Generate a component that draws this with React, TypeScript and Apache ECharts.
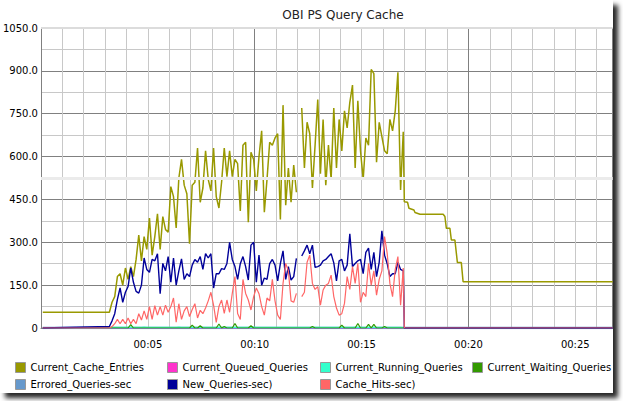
import React, { useEffect, useRef } from "react";
import * as echarts from "echarts";

const TITLE = "OBI PS Query Cache";
const FONT = "'DejaVu Sans', sans-serif";

// time axis in seconds
const startSec = 5;
const endSec = 1605;
const denseStartSec = 192;
const denseStepSec = 7.5;
const burstEndSec = 1020;

const legendColumns = [
  ["Current_Cache_Entries", "Errored_Queries-sec"],
  ["Current_Queued_Queries", "New_Queries-sec)"],
  ["Current_Running_Queries", "Cache_Hits-sec)"],
  ["Current_Waiting_Queries"],
];
const legendLefts = [15, 167, 320, 472];

const colors = {
  "Current_Cache_Entries": "#999900",
  "Current_Queued_Queries": "#ff33cc",
  "Current_Running_Queries": "#33ffcc",
  "Current_Waiting_Queries": "#339900",
  "Errored_Queries-sec": "#6699cc",
  "New_Queries-sec)": "#000099",
  "Cache_Hits-sec)": "#ff6666",
};

const cacheEntriesHead = [55];
const cacheEntriesDense = [
  55, 90, 110, 180, 190, 150, 210, 170, 215, 180,
  240, 325, 235, 320, 275, 385, 255, 320, 400, 275,
  390, 345, 335, 495, 460, 350, 525, 590, 500, 470,
  295, 500, 510, 630, 440, 490, 620, 520, 480, 630,
  460, 420, 510, 630, 530, 620, 530, 590, 575, 410,
  640, 650, 370, 615, 590, 480, 600, 690, 405, 520,
  650, 640, 665, 680, 380, 780, 430, 560, 440, 570,
  475, null, 770, 560, 720, 680, 490, 640, 800, 540,
  730, 500, 640, 520, 770, 560, 730, 620, 760, 700,
  790, 850, 560, 795, 620, 520, 665, 640, 905, 890,
  580, 720, 670, 620, 610, 730, 690, 760, 895, 483, 687,
];
const cacheEntriesTailTimes = [1020, 1029, 1033, 1047, 1050, 1064, 1129, 1134, 1138, 1148, 1152, 1162, 1169, 1180, 1185, 1605];
const cacheEntriesTailValues = [442, 440, 419, 413, 404, 398, 398, 390, 349, 349, 308, 308, 229, 229, 162, 162];

const newQueriesDense = [
  5, 25, 50, 100, 140, 90, 125, 145, 210, 160,
  128, 122, 150, 245, 205, 195, 240, 235, 260, 120,
  226, 200, 250, 160, 245, 150, 200, 242, 170, 190,
  180, 220, 240, 230, 250, 205, 260, 245, 260, 140,
  190, 190, 208, 205, 226, 300, 240, 215, 170, 225,
  250, 215, 168, 290, 300, 160, 255, 150, 175, 170,
  225, 240, 220, 165, 225, 270, 170, 215, 168, 180,
  244, null, 252, 270, 290, 260, 290, 212, 215, 220,
  235, 240, 250, 260, 228, 165, 235, 240, 200, 220,
  330, 215, 226, 235, 240, 190, 265, 280, 205, 265,
  180, 230, 340, 255, 225, 180, 190, 190, 230, 205, 200,
];

const cacheHitsDense = [
  0, 5, 15, 30, 15, 30, 15, 35, 15, 30,
  15, 50, 28, 60, 30, 75, 30, 78, 45, 75,
  45, 80, 55, 75, 105, 20, 85, 30, 60, 75,
  40, 65, 85, 35, 62, 50, 70, 95, 125, 80,
  20, 75, 98, 51, 98, 55, 121, 180, 51, 30,
  170, 121, 98, 63, 110, 140, 120, 75, 45, 105,
  95, 170, 95, 45, 30, 156, 226, 200, 95, 90,
  121, null, 110, 125, 230, 255, 156, 135, 145, 80,
  133, 150, 156, 185, 110, 70, 45, 50, 86, 180,
  135, 215, 156, 226, 90, 125, 110, 226, 150, 200,
  115, 170, 200, 320, 260, 156, 110, 205, 250, 80, 210,
];

const waitingDense = [
  0, 0, 0, 0, 0, 0, 0, 0, 12, 0,
  0, 0, 0, 0, 0, 0, 0, 0, 0, 0,
  0, 0, 0, 0, 0, 0, 0, 0, 0, 0,
  0, 10, 0, 0, 8, 0, 0, 0, 0, 0,
  0, 14, 0, 5, 0, 0, 0, 16, 0, 0,
  0, 0, 0, 8, 0, 0, 0, 0, 0, 0,
  0, 0, 0, 0, 0, 0, 0, 0, 0, 0,
  0, 0, 0, 0, 0, 0, 5, 0, 0, 0,
  0, 0, 0, 0, 0, 0, 0, 10, 0, 0,
  0, 0, 0, 16, 0, 0, 0, 13, 0, 13,
  0, 0, 0, 5, 0, 0, 0, 0, 0, 0, 0,
];

const runningDense = [
  1, 2, 2, 2, 2, 2, 2, 2, 2, 2,
  2, 2, 2, 3, 2, 2, 2, 2, 2, 2,
  2, 2, 2, 2, 2, 2, 3, 2, 2, 2,
  2, 2, 2, 2, 2, 2, 2, 2, 2, 2,
  2, 2, 2, 2, 2, 2, 2, 2, 2, 2,
  2, 2, 2, 2, 3, 2, 2, 2, 2, 2,
  2, 2, 2, 2, 2, 2, 2, 2, 2, 2,
  2, 2, 2, 2, 2, 2, 2, 2, 2, 2,
  2, 2, 2, 2, 2, 2, 2, 2, 2, 2,
  2, 2, 3, 2, 2, 2, 2, 2, 2, 2,
  2, 2, 2, 2, 2, 2, 2, 2, 2, 2, 1,
];

const flatZero = [0, 0];
const flatZeroTimes = [startSec, endSec];

const yMax = 1050;
const yInterval = 150;
const xInterval = 300;
const highlightLevels = [525, 1050];

function densePairs(values: (number | null)[]) {
  return values.map((v, i) => [denseStartSec + i * denseStepSec, v === null ? "-" : v]);
}

function burst(values: (number | null)[]) {
  return [[startSec, 0], ...densePairs(values), [burstEndSec, 0], [endSec, 0]];
}

const cacheEntriesData = [
  [startSec, cacheEntriesHead[0]],
  ...densePairs(cacheEntriesDense),
  ...cacheEntriesTailTimes.map((t, i) => [t, cacheEntriesTailValues[i]]),
];

function fmtTime(v: number) {
  if (v === 0) return "";
  const m = Math.round(v / 60);
  return "00:" + String(m).padStart(2, "0");
}

export default function App() {
  const ref = useRef<HTMLDivElement>(null);
  useEffect(() => {
    if (!ref.current) return;
    const chart = echarts.init(ref.current, null, { renderer: "svg" });
    const line = (name: string, data: any[], width: number, extra: any = {}) => ({
      name,
      type: "line",
      data,
      showSymbol: false,
      symbol: "none",
      color: (colors as any)[name],
      lineStyle: { color: (colors as any)[name], width },
      emphasis: { disabled: true },
      ...extra,
    });
    chart.setOption({
      animation: false,
      backgroundColor: "transparent",
      graphic: [
        {
          type: "rect",
          z: -100,
          silent: true,
          shape: { x: 0, y: 0, width: 613, height: 393 },
          style: {
            fill: "#ffffff",
            shadowBlur: 5,
            shadowColor: "rgba(0,0,0,0.85)",
            shadowOffsetX: 5,
            shadowOffsetY: 5,
          },
        },
        {
          type: "text",
          z: 10,
          x: 343,
          y: 15,
          style: {
            text: TITLE,
            align: "center",
            verticalAlign: "middle",
            fontSize: 12,
            fontFamily: FONT,
            fill: "#222",
          },
        },
      ],
      grid: { left: 38.5, right: 10.3, top: 28, bottom: 73, containLabel: false },
      xAxis: {
        type: "value",
        min: 0,
        max: endSec,
        interval: xInterval,
        axisLine: { show: true, lineStyle: { color: "#808080" } },
        axisTick: { show: false },
        minorTick: { show: false, splitNumber: 5 },
        axisLabel: {
          formatter: fmtTime,
          fontSize: 10,
          fontFamily: FONT,
          color: "#000",
          margin: 11,
          showMaxLabel: false,
        },
        splitLine: { show: true, lineStyle: { color: ["#808080", "#c8c8c8"], width: 1 } },
        minorSplitLine: { show: true, lineStyle: { color: "#c8c8c8", width: 1 } },
      },
      yAxis: {
        type: "value",
        min: 0,
        max: yMax,
        interval: yInterval,
        axisLine: { show: true, lineStyle: { color: "#808080" } },
        axisTick: { show: false },
        minorTick: { show: false, splitNumber: 2 },
        axisLabel: {
          formatter: (v: number) => (v === 0 ? "0" : v.toFixed(1)),
          fontSize: 10,
          fontFamily: FONT,
          color: "#000",
          margin: 3,
        },
        splitLine: { show: true, lineStyle: { color: "#808080", width: 1 } },
        minorSplitLine: { show: true, lineStyle: { color: "#c8c8c8", width: 1 } },
      },
      legend: legendColumns.map((names, i) => ({
        data: names,
        orient: "vertical",
        left: legendLefts[i],
        top: 362,
        icon: "rect",
        itemWidth: 10,
        itemHeight: 10,
        itemGap: 6,
        padding: 0,
        selectedMode: false,
        itemStyle: { borderColor: "#999", borderWidth: 1 },
        textStyle: { fontSize: 10, fontFamily: FONT, color: "#000", padding: [0, 0, 0, 0] },
      })),
      series: [
        line("Errored_Queries-sec", flatZeroTimes.map((t, i) => [t, flatZero[i]]), 2.5, {
          markLine: {
            silent: true,
            symbol: ["none", "none"],
            label: { show: false },
            data: [
              { yAxis: highlightLevels[0], lineStyle: { color: "#ebebeb", width: 3, type: "solid" } },
              { yAxis: highlightLevels[1], lineStyle: { color: "#dcdcdc", width: 2, type: "solid" } },
            ],
          },
        }),
        line("Current_Queued_Queries", flatZeroTimes.map((t, i) => [t, flatZero[i]]), 1.2),
        line("Current_Running_Queries", densePairs(runningDense), 1.2),
        line("Current_Waiting_Queries", burst(waitingDense), 1.2),
        line("Current_Cache_Entries", cacheEntriesData, 1.5),
        line("New_Queries-sec)", burst(newQueriesDense), 1.4),
        line("Cache_Hits-sec)", burst(cacheHitsDense), 1.2),
      ],
    });
    return () => chart.dispose();
  }, []);
  return (
    <div
      ref={ref}
      style={{ position: "fixed", left: 0, top: 0, width: 623, height: 401, background: "#fff" }}
    />
  );
}
